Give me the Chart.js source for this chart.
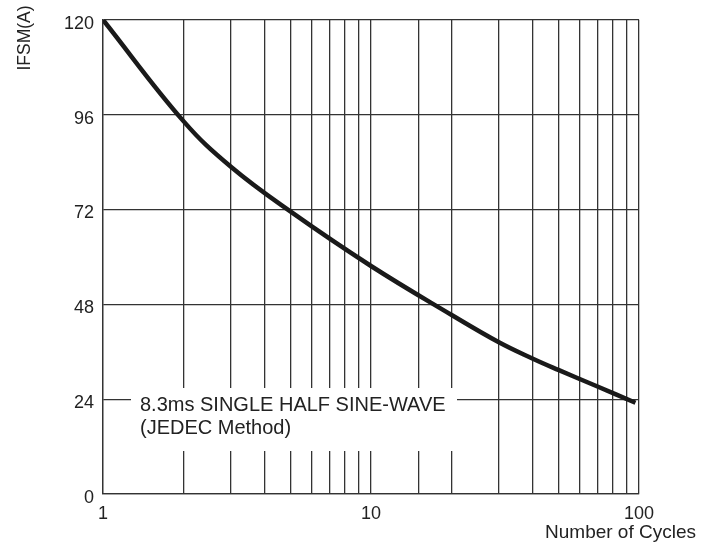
<!DOCTYPE html>
<html>
<head>
<meta charset="utf-8">
<script src="https://cdn.jsdelivr.net/npm/chart.js@4/dist/chart.umd.min.js"></script>
<style>
  html, body { margin: 0; padding: 0; background: #fff; }
  #wrap { width: 717px; height: 550px; }
</style>
</head>
<body>
<div id="wrap"><canvas id="surge"></canvas></div>
<script>
// -- DATA ---------------//
const Cycles = [1, 2, 3, 5, 10, 20, 30, 40, 50, 70, 97];
const Ifsm = [120, 94.3, 82.8, 71.5, 57.7, 45.3, 38.4, 34.3, 31.4, 27.2, 23.1];
const YTicks = [0, 24, 48, 72, 96, 120];
const XLabels = [1, 10, 100];
const NoteLines = ['8.3ms SINGLE HALF SINE-WAVE', '(JEDEC Method)'];

const FONT = '"Liberation Sans", Arial, sans-serif';
const INK = '#222';

// white note box + titles drawn by hand
const notePlugin = {
	id: 'notes',
	beforeDatasetsDraw(chart) {
		const c = chart.ctx;
		c.save();
		c.fillStyle = '#fff';
		c.fillRect(131, 388, 326, 63);
		c.fillStyle = INK;
		c.font = '20px ' + FONT;
		c.textBaseline = 'middle';
		c.textAlign = 'left';
		c.fillText(NoteLines[0], 140, 405);
		c.fillText(NoteLines[1], 140, 428);
		c.restore();
	},
	afterDraw(chart) {
		const c = chart.ctx;
		c.save();
		c.fillStyle = INK;
		c.font = '19px ' + FONT;
		c.textBaseline = 'middle';
		c.textAlign = 'right';
		c.fillText('Number of Cycles', 696, 533);
		c.font = '17.5px ' + FONT;
		c.translate(25, 38);
		c.rotate(-Math.PI / 2);
		c.textAlign = 'center';
		c.fillText('IFSM(A)', 0, 0);
		c.restore();
	}
};

const ctx = document.getElementById('surge').getContext('2d');
const surgeChart = new Chart(ctx, {
	type: 'line',
	data: {
		datasets: [
			{
				data: Cycles.map((x, i) => ({ x: x, y: Ifsm[i] })),
				borderColor: '#1a1a1a',
				borderWidth: 4.5,
				pointRadius: 0,
				fill: false,
				tension: 0.4,
			},
		],
	},
	options: {
		responsive: true,
		maintainAspectRatio: false,
		animation: false,
		layout: {
			padding: { top: 14, right: 78, left: 0, bottom: 0 }
		},
		plugins: {
			legend: { display: false },
			tooltip: { enabled: false },
		},
		scales: {
			x: {
				type: 'logarithmic',
				min: 1,
				max: 100,
				afterFit(scale) { scale.height = 56; },
				grid: {
					color: '#333',
					lineWidth: 1.3,
					drawTicks: false,
				},
				border: { color: '#333', width: 1.3 },
				ticks: {
					autoSkip: false,
					maxRotation: 0,
					padding: 9,
					color: INK,
					font: { family: FONT, size: 18 },
					callback: (v) => XLabels.includes(v) ? String(v) : '',
				},
			},
			y: {
				min: 0,
				max: 120,
				afterFit(scale) { scale.width = 103; },
				afterBuildTicks(scale) {
					scale.ticks = YTicks.map(v => ({ value: v }));
				},
				grid: {
					color: '#333',
					lineWidth: 1.3,
					drawTicks: false,
				},
				border: { color: '#333', width: 1.3 },
				ticks: {
					padding: 9,
					labelOffset: 4,
					color: INK,
					font: { family: FONT, size: 18 },
				},
			},
		},
	},
	plugins: [notePlugin]
});
</script>
</body>
</html>
